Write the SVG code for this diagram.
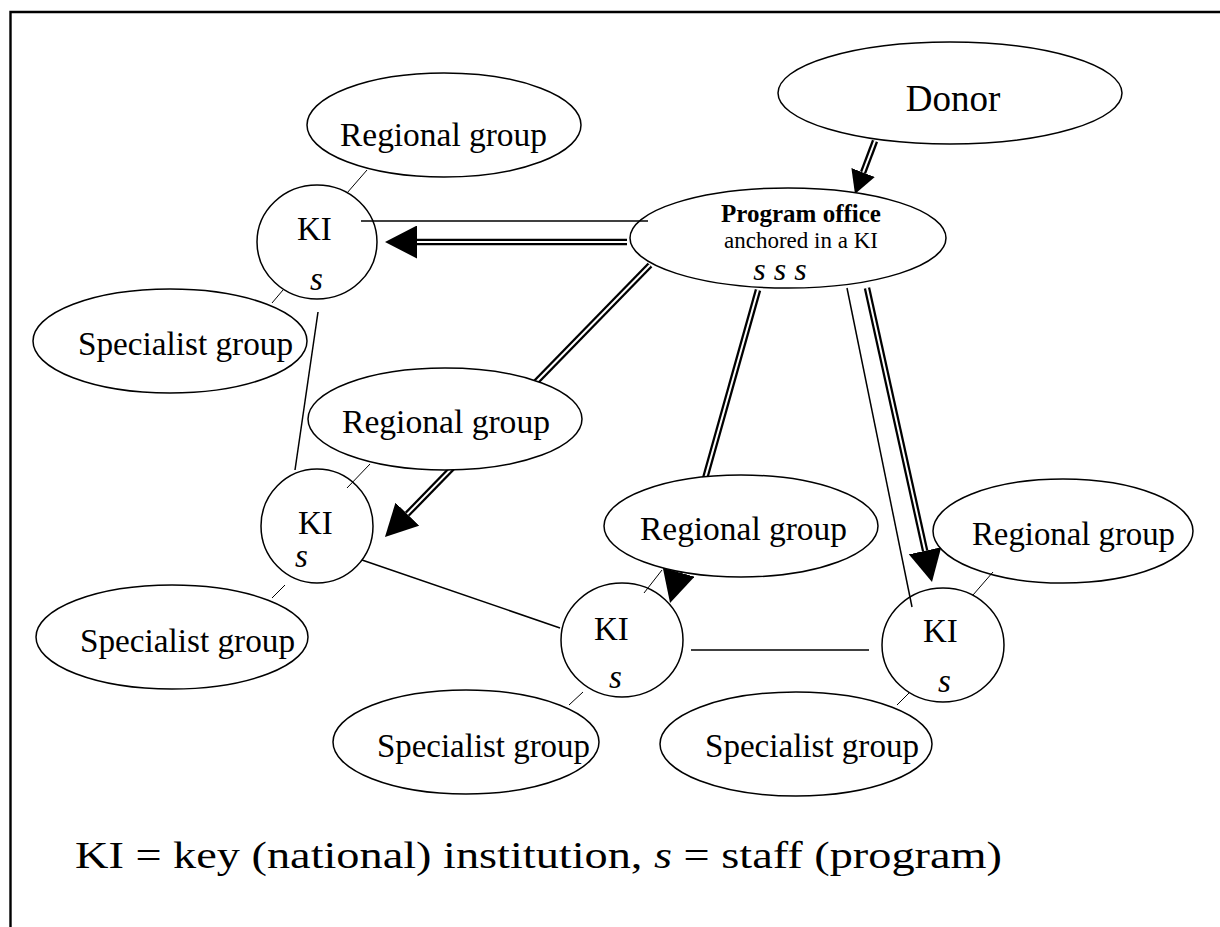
<svg xmlns="http://www.w3.org/2000/svg" width="1220" height="927" viewBox="0 0 1220 927">
<style>
.n{fill:#fff;stroke:#000;stroke-width:1.5}
.t{font-family:"Liberation Serif","Times New Roman",serif;fill:#000}
.i{font-style:italic}
.thin{stroke:#000;stroke-width:1.5;fill:none}
.c{stroke:#000;stroke-width:1;fill:none}
.dbl{stroke:#000;stroke-width:6.5;fill:none}
.dblw{stroke:#fff;stroke-width:2;fill:none}
.frame{stroke:#000;stroke-width:2.4;fill:none}
</style>
<defs>
<marker id="ah" markerUnits="userSpaceOnUse" markerWidth="32" markerHeight="33" viewBox="0 0 32 33" refX="0" refY="16.5" orient="auto"><path d="M0,0 L32,16.5 L0,33 z" fill="#000"/></marker>
<marker id="ahs" markerUnits="userSpaceOnUse" markerWidth="23" markerHeight="25" viewBox="0 0 23 25" refX="0" refY="12.5" orient="auto"><path d="M0,0 L23,12.5 L0,25 z" fill="#000"/></marker>
</defs>
<rect width="1220" height="927" fill="#fff"/>
<path class="frame" d="M10.5,927 V12 H1220"/>

<g id="connectors">
<path class="dbl" d="M875,141 L863.1,172.5" marker-end="url(#ahs)"/>
<path class="dblw" d="M875,141 L863.1,172.5"/>
<path class="dbl" d="M627,242 L417,242" marker-end="url(#ah)"/>
<path class="dblw" d="M627,242 L417,242"/>
<path class="dbl" d="M650,265 L407.3,514.1" marker-end="url(#ah)"/>
<path class="dblw" d="M650,265 L407.3,514.1"/>
<path class="dbl" d="M758,290 L678.7,572.2" marker-end="url(#ah)"/>
<path class="dblw" d="M758,290 L678.7,572.2"/>
<path class="dbl" d="M867,288 L925.1,550.8" marker-end="url(#ah)"/>
<path class="dblw" d="M867,288 L925.1,550.8"/>
</g>

<g id="donor"><ellipse class="n" cx="950" cy="93" rx="172" ry="51"/><text class="t" x="953" y="111" font-size="37" text-anchor="middle">Donor</text></g>
<g id="program-office"><ellipse class="n" cx="788" cy="238" rx="158" ry="50"/>
<text class="t" x="801" y="222" font-size="25" font-weight="bold" text-anchor="middle">Program office</text>
<text class="t" x="801" y="248" font-size="23" text-anchor="middle">anchored in a KI</text>
<text class="t i" x="780" y="280" font-size="32" text-anchor="middle" xml:space="preserve">s s s</text></g>

<g id="regional-top"><ellipse class="n" cx="444" cy="125" rx="137" ry="52"/><text class="t" x="340" y="146" font-size="33" textLength="207" lengthAdjust="spacingAndGlyphs">Regional group</text></g>
<g id="ki-1"><ellipse class="n" cx="317" cy="242" rx="60" ry="57"/><text class="t" x="297" y="240" font-size="33">KI</text><text class="t i" x="310" y="290" font-size="33">s</text></g>
<g id="specialist-tl"><ellipse class="n" cx="170" cy="341" rx="137" ry="52"/><text class="t" x="78" y="355" font-size="33" textLength="215" lengthAdjust="spacingAndGlyphs">Specialist group</text></g>

<g id="regional-midleft"><ellipse class="n" cx="445" cy="419" rx="137" ry="51"/><text class="t" x="342" y="433" font-size="33" textLength="208" lengthAdjust="spacingAndGlyphs">Regional group</text></g>
<g id="ki-2"><ellipse class="n" cx="317" cy="526" rx="56" ry="57"/><text class="t" x="298" y="534" font-size="33">KI</text><text class="t i" x="295" y="567" font-size="33">s</text></g>
<g id="specialist-bl"><ellipse class="n" cx="172" cy="637" rx="136" ry="52"/><text class="t" x="80" y="652" font-size="33" textLength="215" lengthAdjust="spacingAndGlyphs">Specialist group</text></g>

<g id="regional-midcenter"><ellipse class="n" cx="741" cy="526" rx="137" ry="51"/><text class="t" x="640" y="540" font-size="33" textLength="207" lengthAdjust="spacingAndGlyphs">Regional group</text></g>
<g id="ki-3"><ellipse class="n" cx="622" cy="640" rx="61" ry="57"/><text class="t" x="594" y="640" font-size="33">KI</text><text class="t i" x="609" y="688" font-size="33">s</text></g>
<g id="specialist-bc"><ellipse class="n" cx="466" cy="742" rx="133" ry="52"/><text class="t" x="377" y="757" font-size="33" textLength="213" lengthAdjust="spacingAndGlyphs">Specialist group</text></g>

<g id="regional-right"><ellipse class="n" cx="1063" cy="531" rx="130" ry="52"/><text class="t" x="972" y="545" font-size="33" textLength="203" lengthAdjust="spacingAndGlyphs">Regional group</text></g>
<g id="ki-4"><ellipse class="n" cx="943" cy="645" rx="61" ry="57"/><text class="t" x="923" y="642" font-size="33">KI</text><text class="t i" x="938" y="692" font-size="33">s</text></g>
<g id="specialist-br"><ellipse class="n" cx="796" cy="744" rx="136" ry="52"/><text class="t" x="705" y="757" font-size="33" textLength="214" lengthAdjust="spacingAndGlyphs">Specialist group</text></g>

<g id="connectors-over">
<line class="thin" x1="361" y1="221" x2="648" y2="221"/>
<line class="thin" x1="318" y1="312" x2="295" y2="470"/>
<line class="thin" x1="362" y1="560" x2="560" y2="628"/>
<line class="thin" x1="691" y1="650" x2="869" y2="650"/>
<line class="thin" x1="847" y1="288" x2="912" y2="607"/>
<line class="c" x1="367" y1="170" x2="347" y2="193"/>
<line class="c" x1="283" y1="290" x2="272" y2="303"/>
<line class="c" x1="370" y1="464" x2="347" y2="488"/>
<line class="c" x1="285" y1="585" x2="272" y2="598"/>
<line class="c" x1="662" y1="570" x2="644" y2="593"/>
<line class="c" x1="583" y1="692" x2="569" y2="705"/>
<line class="c" x1="993" y1="572" x2="973" y2="595"/>
<line class="c" x1="909" y1="693" x2="897" y2="705"/>
</g>

<text class="t" x="75" y="868" font-size="38" textLength="927" lengthAdjust="spacingAndGlyphs">KI = key (national) institution, <tspan class="i">s</tspan> = staff (program)</text>
</svg>
